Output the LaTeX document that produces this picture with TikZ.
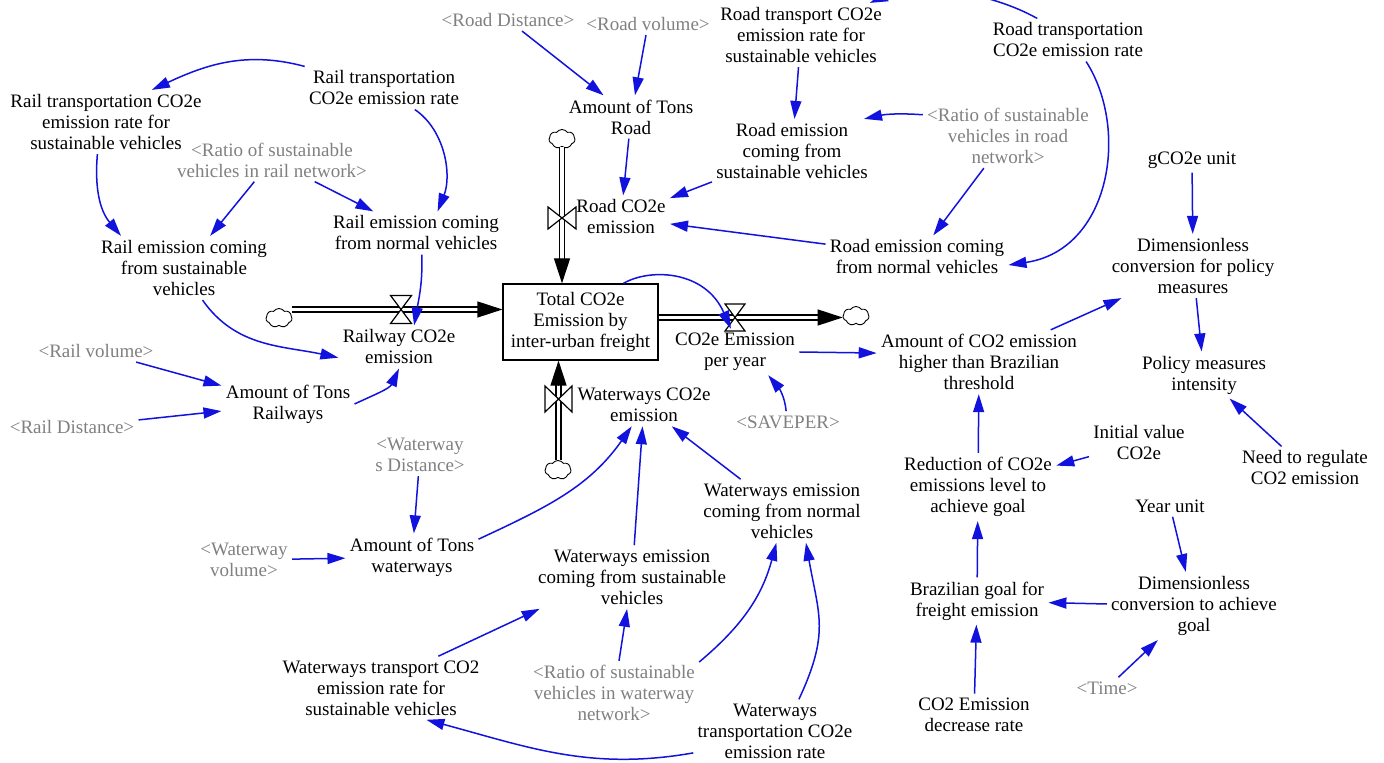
\documentclass[tikz,border=0pt]{standalone}
\usepackage{fontspec}
\setmainfont{Liberation Serif}
\usetikzlibrary{arrows.meta,shapes.symbols,calc}
\definecolor{lblue}{RGB}{18,18,222}
\definecolor{vgray}{RGB}{128,128,128}
\newcommand\valveH[3]{\draw[valvest] ($(#1)+(-#2,#3)$) -- ($(#1)+(#2,#3)$) -- ($(#1)+(-#2,-#3)$) -- ($(#1)+(#2,-#3)$) -- cycle;}
\newcommand\valveV[3]{\draw[valvest] ($(#1)+(-#2,#3)$) -- ($(#1)+(-#2,-#3)$) -- ($(#1)+(#2,#3)$) -- ($(#1)+(#2,-#3)$) -- cycle;}
\begin{document}
\begin{tikzpicture}[x=0.5pt,y=0.5pt,
 txt/.style={font=\fontsize{9.5}{10.5}\selectfont, align=center, inner sep=2pt},
 ghost/.style={txt, text=vgray},
 lk/.style={draw=lblue, line width=0.75pt, -{Triangle[length=9pt,width=5.5pt]}},
 pipe/.style={draw=black, double=white, double distance=1.9pt, line width=0.65pt},
 ftip/.style={draw=black, line width=0.6pt, -{Triangle[length=12.5pt,width=8pt]}},
 valvest/.style={draw=black, fill=white, line width=0.6pt, line join=miter},
 cloudst/.style={cloud, cloud puffs=7, cloud puff arc=110, aspect=1.4, draw=black, line width=0.45pt, minimum width=13pt, minimum height=9.5pt, inner sep=0pt}]
\useasboundingbox (0,0) rectangle (1384,-763);

% ---- variables ----
\node[txt] (railsust) at (106,-122) {Rail transportation CO2e\\emission rate for\\sustainable vehicles};
\node[txt] (railrate) at (384,-88) {Rail transportation\\CO2e emission rate};
\node[ghost] (ratiorail) at (272,-160) {<Ratio of sustainable\\vehicles in rail network>};
\node[txt] (railes) at (184,-268) {Rail emission coming\\from sustainable\\vehicles};
\node[txt] (railen) at (416,-233) {Rail emission coming\\from normal vehicles};
\node[txt] (railway) at (399,-347) {Railway CO2e\\emission};
\node[ghost] (railvol) at (96,-351) {<Rail volume>};
\node[ghost] (raildist) at (72,-427) {<Rail Distance>};
\node[txt] (tonsrail) at (288,-404) {Amount of Tons\\Railways};
\node[txt, draw, line width=0.6pt, minimum width=77.5pt, minimum height=38pt] (total) at (580.5,-322) {Total CO2e\\Emission by\\inter-urban freight};
\node[txt] (roadco2) at (621,-217) {Road CO2e\\emission};
\node[txt] (tonsroad) at (631,-117) {Amount of Tons\\Road};
\node[ghost] (roaddist) at (508,-20) {<Road Distance>};
\node[ghost] (roadvol) at (648,-24) {<Road volume>};
\node[txt] (roadsust) at (801,-35) {Road transport CO2e\\emission rate for\\sustainable vehicles};
\node[txt] (roadrate) at (1068,-40) {Road transportation\\CO2e emission rate};
\node[txt] (roades) at (792,-151) {Road emission\\coming from\\sustainable vehicles};
\node[ghost] (ratioroad) at (1008,-136) {<Ratio of sustainable\\vehicles in road\\network>};
\node[txt] (roaden) at (917,-257) {Road emission coming\\from normal vehicles};
\node[txt] (peryear) at (735,-352) {CO2e Emission\\per year};
\node[ghost] (saveper) at (788,-422) {<SAVEPER>};
\node[txt] (watco2) at (644,-405) {Waterways CO2e\\emission};
\node[ghost] (watdist) at (420,-455) {<Waterway\\s Distance>};
\node[ghost] (watvol) at (244,-560) {<Waterway\\volume>};
\node[txt] (tonswat) at (412,-557) {Amount of Tons\\waterways};
\node[txt] (wates) at (632,-577) {Waterways emission\\coming from sustainable\\vehicles};
\node[txt] (waten) at (782,-511) {Waterways emission\\coming from normal\\vehicles};
\node[txt] (watsust) at (381,-688) {Waterways transport CO2\\emission rate for\\sustainable vehicles};
\node[ghost] (ratiowat) at (614,-693) {<Ratio of sustainable\\vehicles in waterway\\network>};
\node[txt] (watrate) at (775,-731) {Waterways\\transportation CO2e\\emission rate};
\node[txt] (higher) at (979,-362) {Amount of CO2 emission\\higher than Brazilian\\threshold};
\node[txt] (gunit) at (1192,-160) {gCO2e unit};
\node[txt] (dimpol) at (1193,-266) {Dimensionless\\conversion for policy\\measures};
\node[txt] (policy) at (1204,-375) {Policy measures\\intensity};
\node[txt] (need) at (1305,-468) {Need to regulate\\CO2 emission};
\node[txt] (initv) at (1139,-443) {Initial value\\CO2e};
\node[txt] (reduc) at (978,-487) {Reduction of CO2e\\emissions level to\\achieve goal};
\node[txt] (yunit) at (1170,-506) {Year unit};
\node[txt] (dimgoal) at (1194,-606) {Dimensionless\\conversion to achieve\\goal};
\node[txt] (brgoal) at (977,-601) {Brazilian goal for\\freight emission};
\node[ghost] (timev) at (1107,-688) {<Time>};
\node[txt] (decr) at (974,-715) {CO2 Emission\\decrease rate};

% ---- flows ----
\coordinate (vrail) at (401,-309.5);
\coordinate (vroad) at (562,-218);
\coordinate (vout) at (735,-317.5);
\coordinate (vwat) at (558.5,-399);
\node[cloudst] (clrail) at (279,-318) {};
\node[cloudst] (clroad) at (562,-139) {};
\node[cloudst] (clout) at (856,-316) {};
\node[cloudst] (clwat) at (558,-470) {};

\draw[pipe] (clrail.east |- vrail) -- ($(total.west |- vrail)+(-23,0)$);
\draw[ftip] ($(total.west |- vrail)+(-24,0)$) -- (total.west |- vrail);
\draw[pipe] (clroad.south -| vroad) -- ($(total.north -| vroad)+(0,23)$);
\draw[ftip] ($(total.north -| vroad)+(0,24)$) -- (total.north -| vroad);
\draw[pipe] (total.east |- vout) -- ($(clout.west |- vout)+(-23,0)$);
\draw[ftip] ($(clout.west |- vout)+(-24,0)$) -- (clout.west |- vout);
\draw[pipe] (clwat.north -| vwat) -- ($(total.south -| vwat)+(0,-23)$);
\draw[ftip] ($(total.south -| vwat)+(0,-24)$) -- (total.south -| vwat);
\valveH{vrail}{10.5}{14}
\valveH{vout}{10}{13.5}
\valveV{vroad}{14}{11}
\valveV{vwat}{13.5}{13}

% ---- links ----
\draw[lk] (railrate.north west) to[out=165,in=25] (railsust.35);
\draw[lk] (railrate.-35) .. controls (445,-130) and (452,-175) .. (railen.45);
\draw[lk] (railsust.-105) to[out=-95,in=130] (railes.153);
\draw[lk] (ratiorail) -- (railes);
\draw[lk] (ratiorail) -- (railen);
\draw[lk] (railen.-75) to[out=-88,in=80] (railway.55);
\draw[lk] (railes.-60) to[out=-55,in=168] (railway.-170);
\draw[lk] (railvol) -- (tonsrail);
\draw[lk] (raildist) -- (tonsrail);
\draw[lk] (tonsrail.east) to[out=25,in=-115] (railway.south);
\draw[lk] (roaddist) -- (tonsroad);
\draw[lk] (roadvol) -- (tonsroad);
\draw[lk] (tonsroad) -- (roadco2);
\draw[lk] (roadsust) -- (roades);
\draw[lk] (ratioroad.166) to[bend right=8] (roades.24);
\draw[lk] (roades) -- (roadco2);
\draw[lk] (roaden.172) -- (roadco2.-8);
\draw[lk] (ratioroad) -- (roaden);
\draw[lk] (roadrate.-50) .. controls (1130,-130) and (1110,-250) .. (roaden.-5);
\draw[lk] (roadrate.145) .. controls (990,8) and (920,18) .. (roadsust.25);
\draw[lk] (total.42) .. controls (650,-268) and (705,-270) .. (peryear.100);
\draw[lk] (saveper.100) to[out=95,in=-50] (peryear.-35);
\draw[lk] (peryear.east) -- (higher.175);
\draw[lk] (higher) -- (dimpol);
\draw[lk] (gunit) -- (dimpol);
\draw[lk] (dimpol) -- (policy);
\draw[lk] (need) -- (policy);
\draw[lk] (reduc) -- (higher);
\draw[lk] (initv) -- (reduc);
\draw[lk] (brgoal) -- (reduc);
\draw[lk] (yunit) -- (dimgoal);
\draw[lk] (dimgoal) -- (brgoal);
\draw[lk] (decr) -- (brgoal);
\draw[lk] (timev) -- (dimgoal);
\draw[lk] (tonswat.15) to[out=25,in=-125] (watco2.-120);
\draw[lk] (watdist) -- (tonswat);
\draw[lk] (watvol) -- (tonswat);
\draw[lk] (wates) -- (watco2);
\draw[lk] (waten) -- (watco2);
\draw[lk] (watsust.29) -- (wates.-161);
\draw[lk] (ratiowat) -- (wates);
\draw[lk] (ratiowat.20) to[out=40,in=-105] (waten.-100);
\draw[lk] (watrate.53) to[out=65,in=-80,looseness=1.2] (waten.-53);
\draw[lk] (watrate.-165) to[out=190,in=-15] (watsust.-35);
\end{tikzpicture}
\end{document}
